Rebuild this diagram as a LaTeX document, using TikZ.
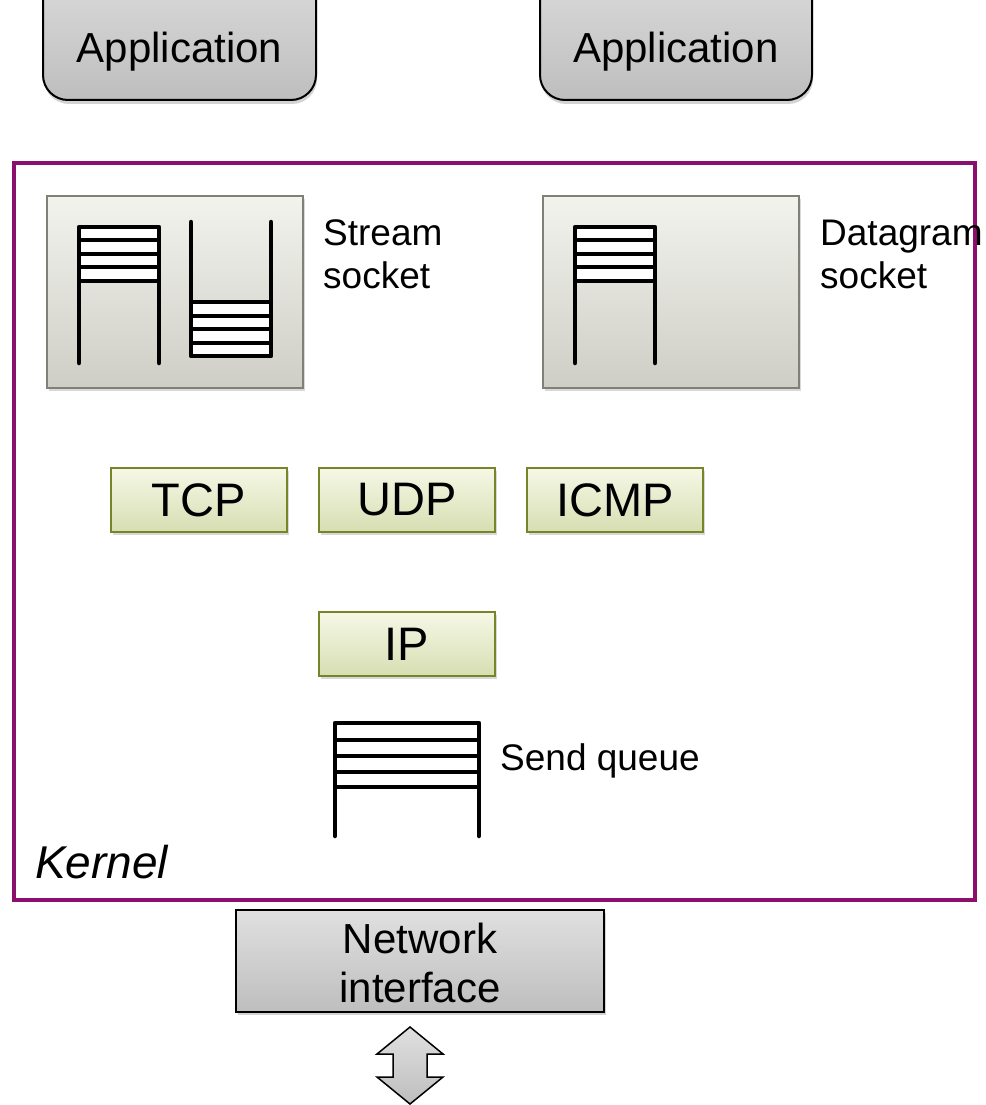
\documentclass[tikz,border=0pt]{standalone}
\usepackage{fontspec}
\setmainfont{Liberation Sans}
\usetikzlibrary{shadows}
\definecolor{kernelc}{RGB}{139,16,110}
\definecolor{sockborder}{RGB}{128,128,118}
\definecolor{socktop}{RGB}{243,243,238}
\definecolor{sockbot}{RGB}{206,206,198}
\definecolor{prottop}{RGB}{246,248,230}
\definecolor{protbot}{RGB}{214,222,178}
\definecolor{protborder}{RGB}{120,132,40}
\definecolor{graytop}{RGB}{224,224,224}
\definecolor{graybot}{RGB}{190,190,190}
\newcommand\fs[1]{\fontsize{#1}{#1}\selectfont}
\tikzset{
  appbox/.style={draw=black, line width=2pt, rounded corners=25pt, top color=graytop, bottom color=graybot,
    drop shadow={shadow xshift=1pt, shadow yshift=-4pt, opacity=0.35}},
  sockbox/.style={draw=sockborder, line width=2pt, top color=socktop, bottom color=sockbot,
    drop shadow={shadow xshift=2pt, shadow yshift=-3pt, opacity=0.3}},
  protbox/.style={draw=protborder, line width=2pt, top color=prottop, bottom color=protbot,
    minimum width=176pt, minimum height=64pt, inner sep=0pt, font=\fs{47},
    drop shadow={shadow xshift=2pt, shadow yshift=-3pt, opacity=0.3}},
  nicbox/.style={draw=black, line width=1.5pt, top color=graytop, bottom color=graybot,
    drop shadow={shadow xshift=2pt, shadow yshift=-3pt, opacity=0.35}},
  qline/.style={line width=4.5pt, line cap=round, line join=round},
  qbar/.style={line width=4.5pt},
  lbl/.style={inner sep=0pt, anchor=base west, font=\fs{37}},
}
\begin{document}
\begin{tikzpicture}[x=1pt,y=-1pt]
\clip (0,0) rectangle (985,1105);
\useasboundingbox (0,0) rectangle (985,1105);
% Applications
\node[appbox, minimum width=273pt, minimum height=150pt] (app1) at (179.5,25) {};
\node[inner sep=0pt, anchor=base, font=\fs{42}] (app1t) at (179.5,63) {Application};
\node[appbox, minimum width=272pt, minimum height=150pt] (app2) at (676,25) {};
\node[inner sep=0pt, anchor=base, font=\fs{42}] (app2t) at (676,63) {Application};
% Kernel box
\node[draw=kernelc, line width=4pt, minimum width=961pt, minimum height=737pt, inner sep=0pt] (kernel) at (494.5,531.5) {};
\node[inner sep=0pt, anchor=base west, font=\fs{46}\itshape] (kernelt) at (35,878) {Kernel};
% Sockets
\node[sockbox, minimum width=256pt, minimum height=192pt] (ss) at (175,292) {};
\node[sockbox, minimum width=256pt, minimum height=192pt] (ds) at (671,292) {};
\node[lbl] (sst1) at (323,245) {Stream};
\node[lbl] (sst2) at (323,288) {socket};
\node[lbl] (dst1) at (820,245) {Datagram};
\node[lbl] (dst2) at (820,288) {socket};
% Stream socket queues
\fill[white] (79,227) rectangle (159,281);
\draw[qline] (79,363) -- (79,227) -- (159,227) -- (159,363);
\foreach \y in {240,254,267,281} \draw[qbar] (79,\y) -- (159,\y);
\fill[white] (191,302) rectangle (271,356);
\draw[qline] (191,222) -- (191,356) -- (271,356) -- (271,222);
\foreach \y in {302,316,329,343} \draw[qbar] (191,\y) -- (271,\y);
% Datagram queue
\fill[white] (575,227) rectangle (655,281);
\draw[qline] (575,363) -- (575,227) -- (655,227) -- (655,363);
\foreach \y in {240,254,267,281} \draw[qbar] (575,\y) -- (655,\y);
% Protocols
\node[protbox] (tcp) at (198.5,500) {TCP};
\node[protbox] (udp) at (407,500) {UDP};
\node[protbox] (icmp) at (615,500) {ICMP};
\node[protbox] (ip) at (407,644) {IP};
% Send queue
\fill[white] (335,723) rectangle (479,787);
\draw[qline] (335,836) -- (335,723) -- (479,723) -- (479,836);
\foreach \y in {740,756,772,787} \draw[qbar] (335,\y) -- (479,\y);
\node[inner sep=0pt, anchor=base west, font=\fs{37}] (sqt) at (500,770) {Send queue};
% Network interface
\node[nicbox, minimum width=368pt, minimum height=102pt] (nic) at (420,961) {};
\node[inner sep=0pt, anchor=base, font=\fs{42}] (nict1) at (420,953) {Network};
\node[inner sep=0pt, anchor=base, font=\fs{42}] (nict2) at (420,1002) {interface};
% Double arrow
\draw[line width=1.5pt, top color=graytop, bottom color=graybot, line join=miter]
  (410,1027) -- (443,1054) -- (427,1054) -- (427,1077) -- (443,1077) -- (410,1104)
  -- (377,1077) -- (393,1077) -- (393,1054) -- (377,1054) -- cycle;
\end{tikzpicture}
\end{document}
